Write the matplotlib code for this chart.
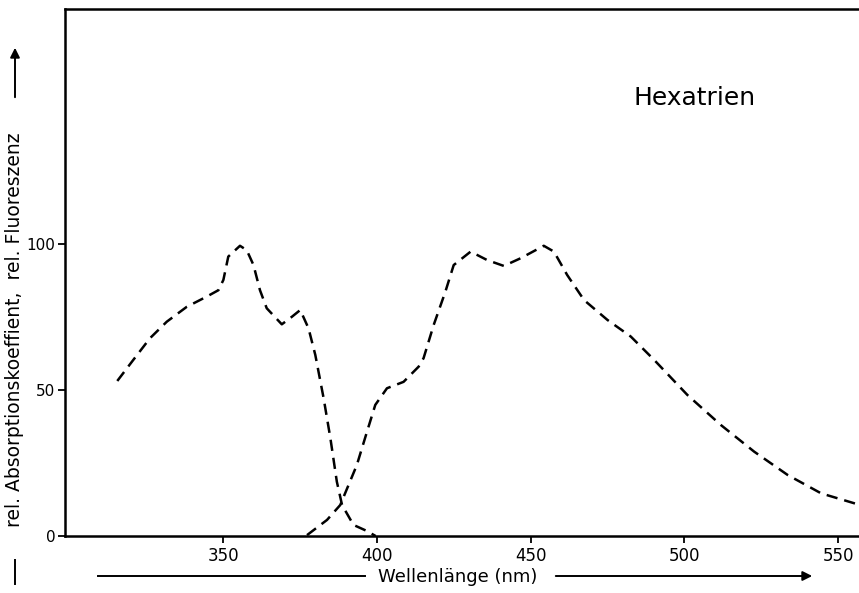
import matplotlib
matplotlib.use("Agg")
import matplotlib.pyplot as plt
from matplotlib.lines import Line2D
from matplotlib.patches import FancyArrowPatch

# Data
abs_wl = [315.6, 320.8, 326.2, 331.7, 338.2, 344.7, 348.5, 350.1, 351.7, 355.5,
          357.7, 359.9, 362.0, 364.2, 369.1, 372.4, 375.1, 377.8, 380.0, 382.7,
          384.9, 387.0, 388.7, 392.4, 396.8, 399.6]
abs_val = [53.1, 60.3, 67.7, 73.4, 78.5, 82.0, 84.2, 87.7, 95.7, 99.4,
           97.9, 92.8, 84.2, 78.0, 72.5, 75.1, 77.4, 71.1, 62.0, 47.2,
           33.5, 18.6, 10.6, 3.8, 1.7, 0.0]

fl_wl = [377.3, 383.8, 388.1, 393.5, 396.8, 399.5, 403.3, 408.7, 413.6, 415.2,
         418.5, 422.3, 425.0, 430.5, 435.9, 441.3, 446.7, 454.3, 457.6, 461.9,
         467.4, 475.0, 482.6, 490.2, 501.0, 511.9, 522.7, 533.6, 544.5, 557.2]
fl_val = [0.3, 5.5, 10.6, 24.3, 35.7, 44.9, 50.6, 52.8, 58.0, 60.9,
          72.3, 83.7, 92.8, 97.4, 94.5, 92.5, 95.1, 99.4, 97.4, 89.4,
          80.8, 74.0, 68.3, 60.3, 48.3, 38.0, 28.9, 20.9, 14.6, 10.6]

x_ticks = [350, 400, 450, 500, 550]
y_ticks = [0, 50, 100]
title_text = "Hexatrien"
xlabel_text = "Wellenlänge (nm)"
ylabel_text = "rel. Absorptionskoeffient,  rel. Fluoreszenz"

W, H = 859, 593
fig = plt.figure(figsize=(W / 100, H / 100), dpi=100)
ax = fig.add_axes([65 / W, 1 - 536 / H, 1 - 65 / W, (536 - 9) / H])

dash = dict(color="black", lw=1.8, dashes=(4.5, 2.8), dash_capstyle="butt")
ax.plot(abs_wl, abs_val, **dash)
ax.plot(fl_wl, fl_val, **dash)

ax.set_xlim(298.6, 556.8)
ax.set_ylim(0, 180.5)
ax.set_xticks(x_ticks)
ax.set_yticks(y_ticks)
ax.tick_params(direction="out", length=5, width=1.3, labelsize=12, pad=3)
ax.tick_params(axis="y", labelsize=11, pad=2)
for s in ["left", "bottom", "top"]:
    ax.spines[s].set_linewidth(1.8)
ax.spines["right"].set_visible(False)

ax.text(483.5, 150, title_text, fontsize=18, va="center", ha="left")

def fx(px):
    return px / W

def fy(py):
    return 1 - py / H

# x label with arrow lines
fig.text(fx(458), fy(577), xlabel_text, fontsize=13, ha="center", va="center")
fig.add_artist(Line2D([fx(98), fx(365)], [fy(576), fy(576)], color="black", lw=1.4))
fig.add_artist(FancyArrowPatch((fx(553), fy(576)), (fx(815), fy(576)),
                               transform=fig.transFigure, arrowstyle="-|>",
                               mutation_scale=14, color="black", lw=1.4))

# y label with arrow lines
fig.text(fx(15), fy(330), ylabel_text, fontsize=13.5, rotation=90,
         ha="center", va="center")
fig.add_artist(Line2D([fx(15), fx(15)], [fy(560), fy(584)], color="black", lw=1.4))
fig.add_artist(FancyArrowPatch((fx(15), fy(100)), (fx(15), fy(45)),
                               transform=fig.transFigure, arrowstyle="-|>",
                               mutation_scale=14, color="black", lw=1.4))

fig.savefig("out.png", dpi=100)
